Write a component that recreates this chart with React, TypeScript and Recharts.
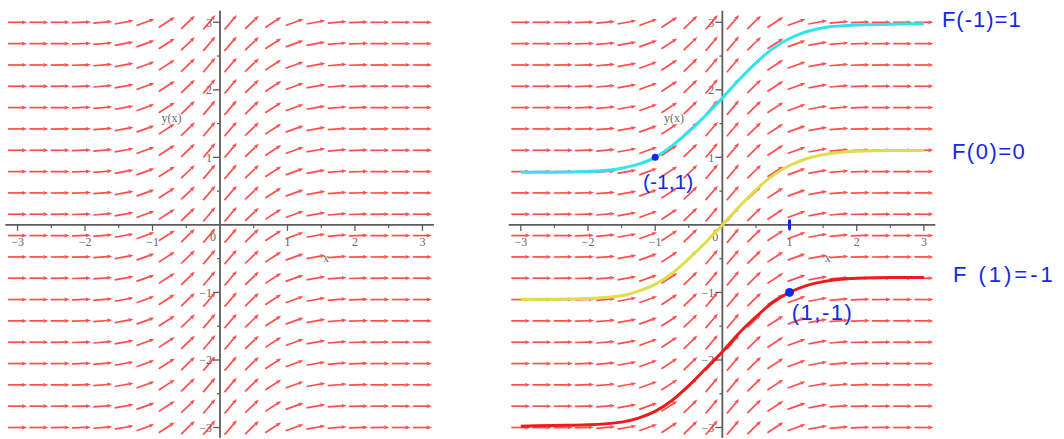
import React from 'react';
import { ComposedChart, XAxis, YAxis, Scatter, Line, ReferenceLine } from 'recharts';

// Slope field: dy/dx depends only on x, so one slope per column
const fieldX = [-3, -2.684, -2.368, -2.053, -1.737, -1.421, -1.105, -0.789, -0.474, -0.158,
  0.158, 0.474, 0.789, 1.105, 1.421, 1.737, 2.053, 2.368, 2.684, 3];
const fieldSlope = [0, 0, 0.01, 0.03, 0.08, 0.18, 0.36, 0.65, 0.96, 1.18,
  1.18, 0.96, 0.65, 0.36, 0.18, 0.08, 0.03, 0.01, 0, 0];
const fieldY = [3, 2.684, 2.368, 2.053, 1.737, 1.421, 1.105, 0.789, 0.474, 0.158,
  -0.158, -0.474, -0.789, -1.105, -1.421, -1.737, -2.053, -2.368, -2.684, -3];

// Solution curves
const curveX = [-3, -2.5, -2, -1.5, -1.25, -1, -0.75, -0.5, -0.25, 0, 0.25, 0.5, 0.75, 1, 1.25, 1.5, 2, 2.5, 3];
const cyanY = [0.78, 0.78, 0.79, 0.84, 0.9, 1.0, 1.17, 1.38, 1.62, 1.88, 2.15, 2.4, 2.61, 2.76, 2.86, 2.92, 2.96, 2.97, 2.98];
const yellowY = [-1.1, -1.1, -1.09, -1.05, -0.98, -0.88, -0.72, -0.5, -0.26, 0, 0.27, 0.52, 0.73, 0.88, 0.98, 1.04, 1.09, 1.1, 1.1];
const redY = [-2.98, -2.97, -2.96, -2.92, -2.86, -2.76, -2.6, -2.38, -2.13, -1.88, -1.6, -1.36, -1.15, -1.0, -0.9, -0.84, -0.79, -0.78, -0.78];

// Axis ticks
const majorTicks = [-3, -2, -1, 1, 2, 3];
const minorTicks = [-2.5, -1.5, -0.5, 0.5, 1.5, 2.5];
const axisNames = [{ x: 1.57, y: -0.49, text: 'x' }, { x: -0.72, y: 1.59, text: 'y(x)' }];

// Handwritten notes
const markedPoints = [{ x: -1, y: 1, text: '(-1,1)' }, { x: 1, y: -1, text: '(1,-1)' }];
const endLabels = ['F(-1)=1', 'F(0)=0', 'F (1)=-1'];

const fieldData = fieldY.flatMap(y => fieldX.map((x, i) => ({ x, y, s: fieldSlope[i] })));
const toLine = (ys: number[]) => curveX.map((x, i) => ({ x, y: ys[i] }));
const curves = [
  { data: toLine(cyanY), color: '#2fe3ef' },
  { data: toLine(yellowY), color: '#dedd4c' },
  { data: toLine(redY), color: '#ee1b1b' },
];
const curveEnds = curves.map((c, i) => ({ ...c.data[c.data.length - 1], text: endLabels[i] }));

const H = 439;
const Y_DOMAIN: [number, number] = [-3.17, 3.33];
const X_LEFT: [number, number] = [-3.26, 3.26];
const X_RIGHT: [number, number] = [-3.31, 3.24];
const BLUE = '#1428e6';
const AXIS = '#5c5c5c';
const TICK_FONT = "'Liberation Serif', 'DejaVu Serif', serif";
const HAND_FONT = "'Liberation Sans', Arial, sans-serif";

const Arrow = ({ cx, cy, payload, ratio }: any) => {
  const a = Math.atan(payload.s * ratio);
  const ux = Math.cos(a), uy = -Math.sin(a);
  const L = 9.5;
  const tx = cx + ux * L, ty = cy + uy * L;
  const bx = tx - ux * 5, by = ty - uy * 5;
  const nx = -uy * 1.9, ny = ux * 1.9;
  return (
    <g opacity={0.82}>
      <line x1={cx - ux * L} y1={cy - uy * L} x2={bx} y2={by} stroke="#ff2626" strokeWidth={1.7} />
      <polygon points={`${tx},${ty} ${bx + nx},${by + ny} ${bx - nx},${by - ny}`} fill="#ff2626" />
    </g>
  );
};

const XTick = ({ cx, cy, payload }: any) => (
  <g>
    <line x1={cx} y1={cy - 1} x2={cx} y2={cy + 6} stroke={AXIS} strokeWidth={1.3} />
    <text x={cx} y={cy + 21} textAnchor="middle" fontFamily={TICK_FONT} fontSize={12} fill="#666">
      {payload.x < 0 ? `\u2212${-payload.x}` : payload.x}
    </text>
  </g>
);

const YTick = ({ cx, cy, payload }: any) => (
  <g>
    <line x1={cx - 7} y1={cy} x2={cx} y2={cy} stroke={AXIS} strokeWidth={1.3} />
    <text x={cx - 8} y={cy + 4.5} textAnchor="end" fontFamily={TICK_FONT} fontSize={12} fill="#666">
      {payload.y < 0 ? `\u2212${-payload.y}` : payload.y}
    </text>
  </g>
);

const XMinor = ({ cx, cy }: any) => <line x1={cx} y1={cy} x2={cx} y2={cy + 3} stroke={AXIS} strokeWidth={1.2} />;
const YMinor = ({ cx, cy }: any) => <line x1={cx - 3} y1={cy} x2={cx} y2={cy} stroke={AXIS} strokeWidth={1.2} />;

const AxisName = ({ cx, cy, payload }: any) => (
  <text x={cx} y={cy + 4} textAnchor="middle" fontFamily={TICK_FONT} fontSize={12} fill="#666">{payload.text}</text>
);

const OriginLabel = ({ cx, cy }: any) => (
  <text x={cx - 7} y={cy + 16.5} textAnchor="middle" fontFamily={TICK_FONT} fontSize={12} fill="#666">0</text>
);

const pointNoteStyle = [
  { r: 3.5, dx: 13, dy: 24, size: 21, ls: 0 },
  { r: 4.5, dx: 33, dy: 20, size: 22, ls: 1.5 },
];
const PointNote = ({ cx, cy, payload, index }: any) => {
  const st = pointNoteStyle[index] || pointNoteStyle[0];
  return (
    <g>
      <circle cx={cx} cy={cy} r={st.r} fill={BLUE} />
      <text x={cx + st.dx} y={cy + st.dy} textAnchor="middle" dominantBaseline="central"
        fontFamily={HAND_FONT} fontSize={st.size} letterSpacing={st.ls} fill={BLUE}>{payload.text}</text>
    </g>
  );
};

const endNoteStyle = [
  { dx: 18, dy: -4, ls: 1 },
  { dx: 28, dy: 1, ls: 1.5 },
  { dx: 29, dy: -3, ls: 3 },
];
const EndNote = ({ cx, cy, payload, index }: any) => {
  const st = endNoteStyle[index] || endNoteStyle[0];
  return (
    <text x={cx + st.dx} y={cy + st.dy} dominantBaseline="central" fontFamily={HAND_FONT}
      fontSize={22} letterSpacing={st.ls} fill={BLUE}>{payload.text}</text>
  );
};

const xTickData = majorTicks.map(x => ({ x, y: 0 }));
const yTickData = majorTicks.map(y => ({ x: 0, y }));
const xMinorData = minorTicks.map(x => ({ x, y: 0 }));
const yMinorData = minorTicks.map(y => ({ x: 0, y }));

interface PanelProps {
  width: number;
  xDomain: [number, number];
  marginRight?: number;
}

// Slope field with axes crossing at the origin
const FieldPanel: React.FC<PanelProps> = ({ width, xDomain, marginRight = 0 }) => {
  const plotW = width - marginRight;
  const ratio = (H / (Y_DOMAIN[1] - Y_DOMAIN[0])) / (plotW / (xDomain[1] - xDomain[0]));
  return (
    <ComposedChart width={width} height={H} margin={{ top: 0, right: marginRight, bottom: 0, left: 0 }}>
      <XAxis type="number" dataKey="x" domain={xDomain} hide />
      <YAxis type="number" dataKey="y" domain={Y_DOMAIN} hide />
      <ReferenceLine segment={[{ x: -3.18, y: 0 }, { x: 3.17, y: 0 }]} stroke={AXIS} strokeWidth={1.8} />
      <ReferenceLine segment={[{ x: 0, y: 3.17 }, { x: 0, y: -3.15 }]} stroke={AXIS} strokeWidth={1.8} />
      <Scatter data={xMinorData} shape={XMinor} isAnimationActive={false} />
      <Scatter data={yMinorData} shape={YMinor} isAnimationActive={false} />
      <Scatter data={xTickData} shape={XTick} isAnimationActive={false} />
      <Scatter data={yTickData} shape={YTick} isAnimationActive={false} />
      <Scatter data={[{ x: 0, y: 0 }]} shape={OriginLabel} isAnimationActive={false} />
      <Scatter data={axisNames} shape={AxisName} isAnimationActive={false} />
      <Scatter data={fieldData} shape={(p: any) => <Arrow {...p} ratio={ratio} />} isAnimationActive={false} />
    </ComposedChart>
  );
};

// Solution curves and notes, laid over the field so they sit on top
const CurvePanel: React.FC<PanelProps> = ({ width, xDomain, marginRight = 0 }) => (
  <ComposedChart width={width} height={H} margin={{ top: 0, right: marginRight, bottom: 0, left: 0 }}>
    <XAxis type="number" dataKey="x" domain={xDomain} hide />
    <YAxis type="number" dataKey="y" domain={Y_DOMAIN} hide />
    {curves.map((c, i) => (
      <Line key={i} data={c.data} dataKey="y" type="monotone" stroke={c.color} strokeWidth={3}
        dot={false} activeDot={false} isAnimationActive={false} />
    ))}
    <ReferenceLine segment={[{ x: 1, y: 0.08 }, { x: 1, y: -0.07 }]} stroke={BLUE} strokeWidth={3} />
    <Scatter data={markedPoints} shape={PointNote} isAnimationActive={false} />
    <Scatter data={curveEnds} shape={EndNote} isAnimationActive={false} />
  </ComposedChart>
);

export default function App() {
  return (
    <div style={{ position: 'absolute', left: 0, top: 0, width: 1064, height: H, background: '#fff' }}>
      <div style={{ position: 'absolute', left: 0, top: 0 }}>
        <FieldPanel width={440} xDomain={X_LEFT} />
      </div>
      <div style={{ position: 'absolute', left: 500, top: 0 }}>
        <FieldPanel width={564} xDomain={X_RIGHT} marginRight={124} />
      </div>
      <div style={{ position: 'absolute', left: 500, top: 0 }}>
        <CurvePanel width={564} xDomain={X_RIGHT} marginRight={124} />
      </div>
    </div>
  );
}
